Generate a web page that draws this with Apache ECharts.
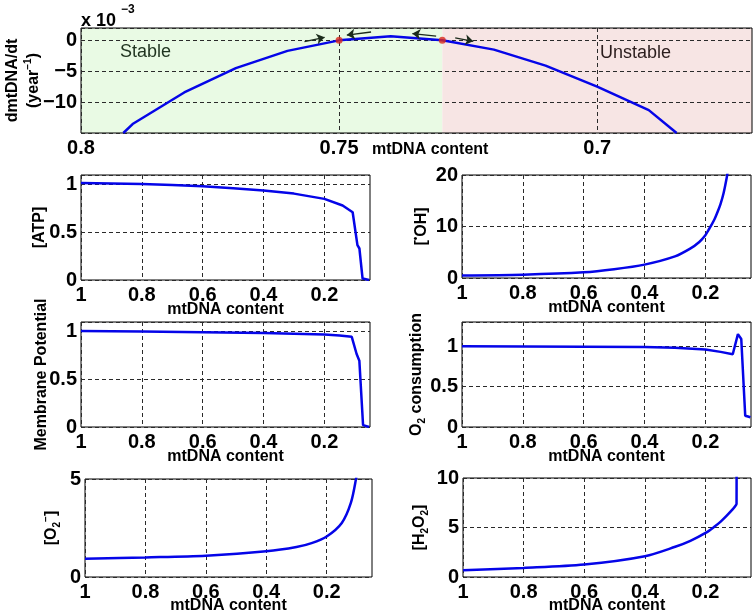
<!DOCTYPE html>
<html><head><meta charset="utf-8">
<script src="https://cdn.jsdelivr.net/npm/echarts@6/dist/echarts.min.js"></script>
<style>html,body{margin:0;padding:0;background:#fff}#c{width:755px;height:616px}</style>
</head><body><div id="c"></div>
<script>
// ---- data ----
const rateX = [0.7918,0.79,0.78,0.77,0.76,0.75,0.74,0.73,0.72,0.71,0.70,0.69,0.6846];
const rateY = [-15,-13.55,-8.44,-4.5,-1.7,0,0.65,0,-1.5,-4.1,-7.5,-11.3,-15];
const eqX = [0.75, 0.73];
const eqY = [0, 0];
const stableRange = [0.8, 0.73];
const unstableRange = [0.73, 0.67];
const arrowsFrom = [[0.7567,-0.2],[0.7438,1.35],[0.7312,0.7],[0.7275,0.4]];
const arrowsTo   = [[0.7528,0.5],[0.7485,0.85],[0.7358,1.1],[0.7240,-0.15]];

const atpX = [1,0.9,0.8,0.7,0.6,0.5,0.4,0.3,0.2,0.14,0.107,0.1005,0.0913,0.0848,0.0744,0.07,0.053];
const atpY = [1.015,1.01,1.005,0.995,0.982,0.962,0.938,0.905,0.85,0.78,0.71,0.695,0.365,0.33,0.015,0,0];

const ohX = [1,0.8,0.6,0.5,0.4,0.3,0.25,0.22,0.2,0.19,0.18,0.17,0.16,0.15,0.14,0.13,0.125];
const ohY = [0.5,0.65,1.1,1.7,2.6,4.2,5.7,7.0,8.3,9.3,10.3,11.4,12.8,14.4,16.5,19.4,21.2];

const mpX = [1,0.8,0.6,0.4,0.3,0.2,0.15,0.11,0.105,0.094,0.085,0.0728,0.07,0.053];
const mpY = [1.005,1.0,0.993,0.985,0.978,0.968,0.958,0.945,0.93,0.765,0.695,0.02,0,0];

const o2cX = [1,0.8,0.6,0.4,0.3,0.2,0.15,0.11,0.104,0.093,0.088,0.082,0.069,0.06,0.052];
const o2cY = [1.0,0.998,0.995,0.99,0.98,0.96,0.93,0.9,0.89,1.15,1.14,1.09,0.14,0.13,0.12];

const o2mX = [1,0.8,0.6,0.4,0.3,0.25,0.2,0.15,0.12,0.103,0.098];
const o2mY = [0.93,1.0,1.09,1.31,1.53,1.73,2.07,2.76,3.78,5,5.6];

const h2X = [1,0.8,0.6,0.4,0.3,0.25,0.2,0.17,0.15,0.13,0.11,0.1,0.0977,0.0975];
const h2Y = [0.68,0.92,1.26,2.1,3.05,3.65,4.45,5.1,5.6,6.2,6.85,7.25,7.4,11];

const topTicks = [0.7, 0.75, 0.8];
const smallTicks = [0.2, 0.4, 0.6, 0.8, 1];

// ---- chart ----
const F = '"Liberation Sans", Arial, Helvetica, sans-serif';
const zip = (a, b) => a.map((v, i) => [v, b[i]]);
const BLUE = '#0505e8';

const rich = {
  b:   {fontFamily:F, fontSize:16, fontWeight:'bold', color:'#000', lineHeight:21},
  sub: {fontFamily:F, fontSize:10, fontWeight:'bold', color:'#000', lineHeight:6, verticalAlign:'bottom'},
  sup: {fontFamily:F, fontSize:10, fontWeight:'bold', color:'#000', lineHeight:6, verticalAlign:'top'}
};
const nameStyle = {fontFamily:F, fontSize:16, fontWeight:'bold', color:'#000', rich};

const grids = [
  {left:81, top:28, width:671, height:105},
  {left:81, top:175, width:289, height:105},
  {left:462, top:175, width:289, height:103},
  {left:81, top:322, width:289, height:105},
  {left:462, top:322, width:289, height:105},
  {left:85, top:479, width:287, height:98},
  {left:463, top:478, width:288, height:99}
].map(g => Object.assign({show:true, borderColor:'#000', borderWidth:1, backgroundColor:'transparent',
  containLabel:false, outerBoundsMode:'none'}, g));

const split = {show:true, lineStyle:{color:'#2a2a2a', type:[4,3], width:1}};
const lbl = {fontFamily:F, fontSize:20, fontWeight:'bold', color:'#000'};

function xAx(i, min, max, ticks, name, gap) {
  return {gridIndex:i, type:'value', min, max, inverse:true, z:2,
    axisLine:{show:false}, axisTick:{show:false, customValues:ticks},
    axisLabel:Object.assign({customValues:ticks, margin:5}, lbl),
    splitLine:split, name, nameLocation:'middle', nameGap:gap, nameMoveOverlap:false,
    nameTextStyle:nameStyle};
}
function yAx(i, min, max, interval, name, gap, hideMin, hideMax) {
  return {gridIndex:i, type:'value', min, max, interval, z:2,
    axisLine:{show:false}, axisTick:{show:false},
    axisLabel:Object.assign({margin:4, showMinLabel:!hideMin, showMaxLabel:!hideMax,
      formatter: v => String(v).replace('-', '\u2212')}, lbl),
    splitLine:split, name, nameLocation:'middle', nameGap:gap, nameRotate:90, nameMoveOverlap:false,
    nameTextStyle:nameStyle};
}

const xAxis = [
  xAx(0, 0.67, 0.8, topTicks, '', 10),
  xAx(1, 0.05, 1, smallTicks, 'mtDNA content', 22),
  xAx(2, 0.05, 1, smallTicks, 'mtDNA content', 22),
  xAx(3, 0.05, 1, smallTicks, 'mtDNA content', 22),
  xAx(4, 0.05, 1, smallTicks, 'mtDNA content', 22),
  xAx(5, 0.05, 1, smallTicks, 'mtDNA content', 21),
  xAx(6, 0.05, 1, smallTicks, 'mtDNA content', 21)
];
const yAxis = [
  yAx(0, -15, 2, 5, '{b|dmtDNA/dt}\n{b|(year}{sup|\u22121}{b|)}', 37, true, true),
  yAx(1, 0, 1.1, 0.5, '{b|[ATP]}', 31, false, true),
  yAx(2, 0, 20, 10, '{b|[}{sup|\u2022}{b|OH]}', 30, false, false),
  yAx(3, 0, 1.1, 0.5, '{b|Membrane Potential}', 29, false, true),
  yAx(4, 0, 1.3, 0.5, '{b|O}{sub|2}{b| consumption}', 35, false, true),
  yAx(5, 0, 5, 5, '{b|[O}{sub|2}{sup|\u2212}{b|]}', 23, false, false),
  yAx(6, 0, 10, 5, '{b|[H}{sub|2}{b|O}{sub|2}{b|]}', 33, false, false)
];

function lineS(i, xs, ys, smooth) {
  return {type:'line', xAxisIndex:i, yAxisIndex:i, data:zip(xs, ys), showSymbol:false,
    smooth: smooth || false,
    lineStyle:{color:BLUE, width:2.5}, clip:true, z:3};
}

const series = [
  {type:'line', xAxisIndex:0, yAxisIndex:0, data:[], z:-1, silent:true,
    markArea:{silent:true, z:-1, data:[
      [{xAxis:stableRange[0], itemStyle:{color:'#e9fae4'}}, {xAxis:stableRange[1]}],
      [{xAxis:unstableRange[0], itemStyle:{color:'#f7e5e4'}}, {xAxis:unstableRange[1]}]
    ]}},
  lineS(0, rateX, rateY),
  {type:'scatter', xAxisIndex:0, yAxisIndex:0, data:zip(eqX, eqY), symbolSize:7,
    itemStyle:{color:'#d92a1c'}, z:5},
  {type:'line', xAxisIndex:0, yAxisIndex:0, data:[], z:4,
    markLine:{silent:true, z:6, symbol:['none','arrow'], symbolSize:8, label:{show:false},
      lineStyle:{color:'#1b2b1b', width:1.3, type:'solid', opacity:1},
      emphasis:{disabled:true},
      data:arrowsFrom.map((p, k) => [{coord:p}, {coord:arrowsTo[k]}])}},
  lineS(1, atpX, atpY),
  lineS(2, ohX, ohY, 0.3),
  lineS(3, mpX, mpY),
  lineS(4, o2cX, o2cY),
  lineS(5, o2mX, o2mY, 0.3),
  lineS(6, h2X, h2Y, 0.3)
];

const graphic = [
  {type:'text', z:20, left:81, top:12, style:{text:'x 10', font:'bold 18px '+F, fill:'#000'}},
  {type:'text', z:20, left:121, top:4, style:{text:'\u22123', font:'bold 12px '+F, fill:'#000'}},
  {type:'text', z:20, left:120, top:43, style:{text:'Stable', font:'18px '+F, fill:'#1f331f'}},
  {type:'text', z:20, left:600, top:44, style:{text:'Unstable', font:'18px '+F, fill:'#2b1d1d'}},
  {type:'text', z:20, left:372, top:142, style:{text:'mtDNA content', font:'bold 16px '+F, fill:'#000'}}
];

const chart = echarts.init(document.getElementById('c'));
chart.setOption({animation:false, backgroundColor:'#fff', grid:grids, xAxis, yAxis, series, graphic});
</script></body></html>
